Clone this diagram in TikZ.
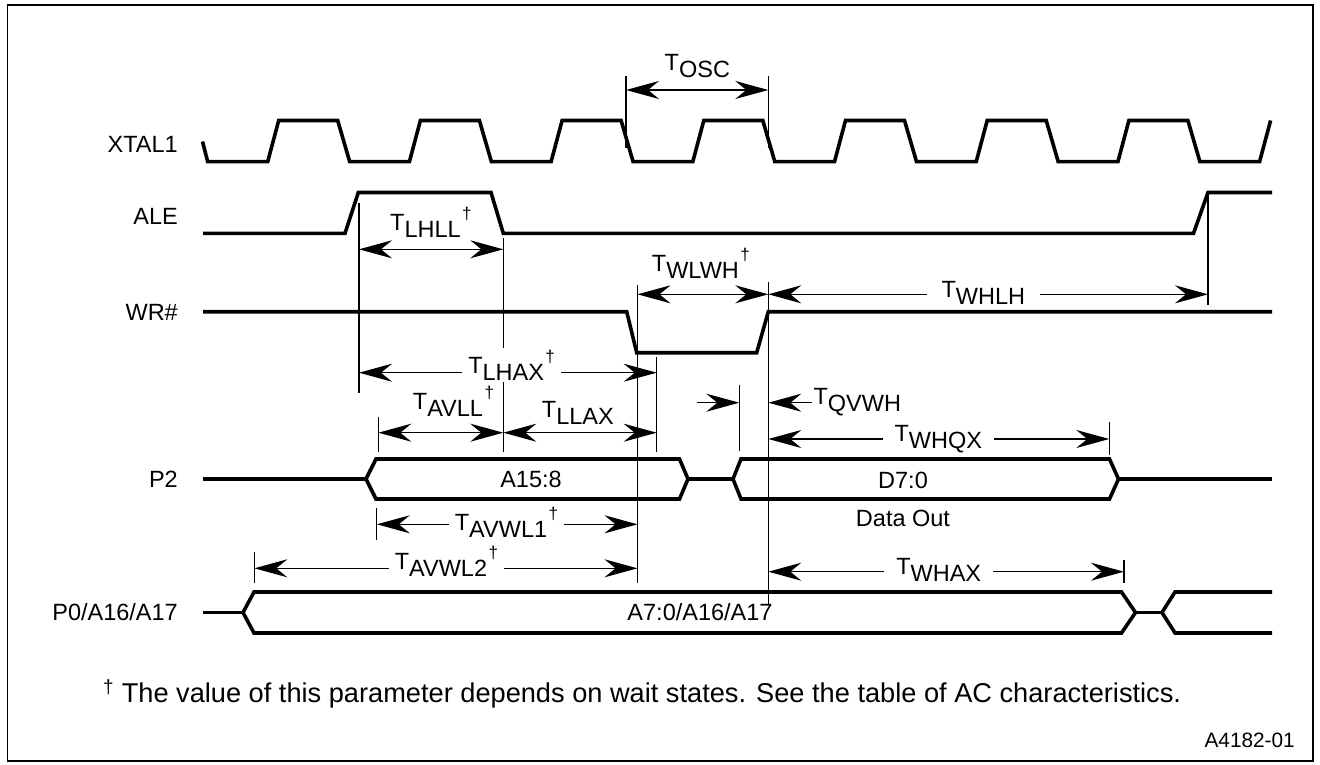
\documentclass[tikz,border=0pt]{standalone}
\usepackage{fontspec}
\setmainfont{Liberation Sans}
\usetikzlibrary{arrows.meta}

\newcommand{\tsub}[1]{T\raisebox{-7pt}{#1}}
\newcommand{\cruz}{\hspace{1.5pt}\raisebox{11pt}{\fontsize{17}{17}\selectfont †}}

\begin{document}
\begin{tikzpicture}[x=1pt,y=-1pt,
    senal/.style={line width=3.6pt},
    guia/.style={line width=1.3pt},
    cota/.style={line width=1.3pt,{Stealth[length=33pt,width=18pt,inset=11pt]}-{Stealth[length=33pt,width=18pt,inset=11pt]}},
    flecha/.style={line width=1.3pt,-{Stealth[length=33pt,width=18pt,inset=11pt]}},
    every node/.style={inner sep=0pt,font=\fontsize{23.5}{28}\selectfont},
    nombre/.style={anchor=east},
    tiempo/.style={anchor=base west},
    enlinea/.style={anchor=base,fill=white,inner xsep=6pt,inner ysep=2pt}]
    \useasboundingbox (0,0) rectangle (1320,765);
    \draw[line width=1.3pt] (7.5,5) rectangle (1313,761);

    % Nombres
    \node[nombre] (xtal) at (178,144) {XTAL1};
    \node[nombre] (ale) at (178,216) {ALE};
    \node[nombre] (wr) at (178,312) {WR\#};
    \node[nombre] (ptwo) at (178,479) {P2};
    \node[nombre] (pzero) at (178,612) {P0/A16/A17};

    % Senales
    \draw[senal] (202.5,141.5) -- (207.7,161.7)
        \foreach \k in {0,...,6} { -- ({267.7+141.7*\k},161.7) -- ++(11,-41.2) -- ++(59,0) -- ++(12,41.2) }
        -- (1259.6,161.7) -- (1270.6,120.5);
    \draw[senal] (203,233.3) -- (345,233.3) -- (358.3,192.5) -- (491,192.5) -- (503.3,233.3)
        -- (1193.5,233.3) -- (1208,192.5) -- (1272,192.5);
    \draw[senal] (203,311.7) -- (626.7,311.7) -- (636.7,352.7) -- (756.7,352.7) -- (768.3,311.7) -- (1272,311.7);

    % Buses
    \draw[senal] (203,479) -- (366,479);
    \draw[senal] (366,479) -- (376,459) -- (679.5,459) -- (688,479) -- (679.5,499) -- (376,499) -- cycle;
    \draw[senal] (688,479) -- (733,479);
    \draw[senal] (733,479) -- (741,459) -- (1109.5,459) -- (1118.5,479) -- (1109.5,499) -- (741,499) -- cycle;
    \draw[senal] (1118.5,479) -- (1272,479);
    \draw[senal] (203,612.5) -- (243,612.5);
    \draw[senal] (243,612.5) -- (254,592) -- (1121.5,592) -- (1135.5,612.5) -- (1121.5,633) -- (254,633) -- cycle;
    \draw[senal] (1135.5,612.5) -- (1162,612.5);
    \draw[senal] (1272,592) -- (1175,592) -- (1162,612.5) -- (1175,633) -- (1272,633);
    \node (addr) at (531,479) {A15:8};
    \node (dat) at (903,480) {D7:0};
    \node (datout) at (903,518) {Data Out};
    \node (low) at (700,612.5) {A7:0/A16/A17};

    % Lineas de referencia
    \draw[guia] (626,76) -- (626,148);
    \draw[guia] (768.3,76) -- (768.3,148);
    \draw[guia] (359,203) -- (359,393);
    \draw[guia] (503.3,238) -- (503.3,452);
    \draw[guia] (378.3,416.7) -- (378.3,451.7);
    \draw[guia] (656.7,357) -- (656.7,452);
    \draw[guia] (637.5,285) -- (637.5,583);
    \draw[guia] (768.3,282) -- (768.3,604);
    \draw[guia] (739.3,385) -- (739.3,451);
    \draw[guia] (1109.3,422) -- (1109.3,455);
    \draw[guia] (376.8,508) -- (376.8,540);
    \draw[guia] (254.3,552) -- (254.3,583);
    \draw[guia] (1208,193) -- (1208,305);
    \draw[guia] (1124,560) -- (1124,583.3);

    % Tiempos
    \draw[cota] (626,90) -- (768.3,90);
    \node[tiempo] (tosc) at (664.5,71) {\tsub{OSC}};
    \draw[cota] (359,249.3) -- (503.3,249.3);
    \node[tiempo] (tlhll) at (390,230) {\tsub{LHLL}\cruz};
    \draw[cota] (637.5,294.3) -- (768.3,294.3);
    \node[tiempo] (twlwh) at (651.7,271.5) {\tsub{WLWH}\cruz};
    \draw[cota] (768.3,294.3) -- (1208,294.3);
    \node[enlinea,inner xsep=15pt] (twhlh) at (983.4,297) {\tsub{WHLH}};
    \draw[cota] (359,372.7) -- (656.7,372.7);
    \node[enlinea] (tlhax) at (511.6,373) {\tsub{LHAX}\cruz};
    \draw[cota] (378.3,432.7) -- (503.3,432.7);
    \node[tiempo] (tavll) at (412.7,409.7) {\tsub{AVLL}\cruz};
    \draw[cota] (503.3,432.7) -- (656.7,432.7);
    \node[tiempo] (tllax) at (541.7,417.3) {\tsub{LLAX}};
    \draw[flecha] (696.7,402.7) -- (739.3,402.7);
    \draw[flecha] (811.7,402.7) -- (768.3,402.7);
    \node[tiempo] (tqvwh) at (813.3,404) {\tsub{QVWH}};
    \draw[cota] (768.3,439) -- (1109.3,439);
    \node[enlinea,inner xsep=12pt] (twhqx) at (938.3,441) {\tsub{WHQX}};
    \draw[cota] (376.8,524.3) -- (637.5,524.3);
    \node[enlinea] (tavwla) at (506.5,530.3) {\tsub{AVWL1}\cruz};
    \draw[cota] (254.3,568.3) -- (637.5,568.3);
    \node[enlinea] (tavwlb) at (446.4,569.7) {\tsub{AVWL2}\cruz};
    \draw[cota] (768.3,571.7) -- (1124,571.7);
    \node[enlinea,inner xsep=12pt] (twhax) at (938.7,574) {\tsub{WHAX}};

    % Nota
    \node[anchor=base west,font=\fontsize{27.2}{32}\selectfont] (nota) at (103,702) {\raisebox{9pt}{\fontsize{19}{19}\selectfont †}\hspace{8pt}The value of this parameter depends on wait states. See the table of AC characteristics.};
    \node[anchor=base east,font=\fontsize{20.8}{24}\selectfont] (ref) at (1295,747) {A4182-01};
\end{tikzpicture}
\end{document}
